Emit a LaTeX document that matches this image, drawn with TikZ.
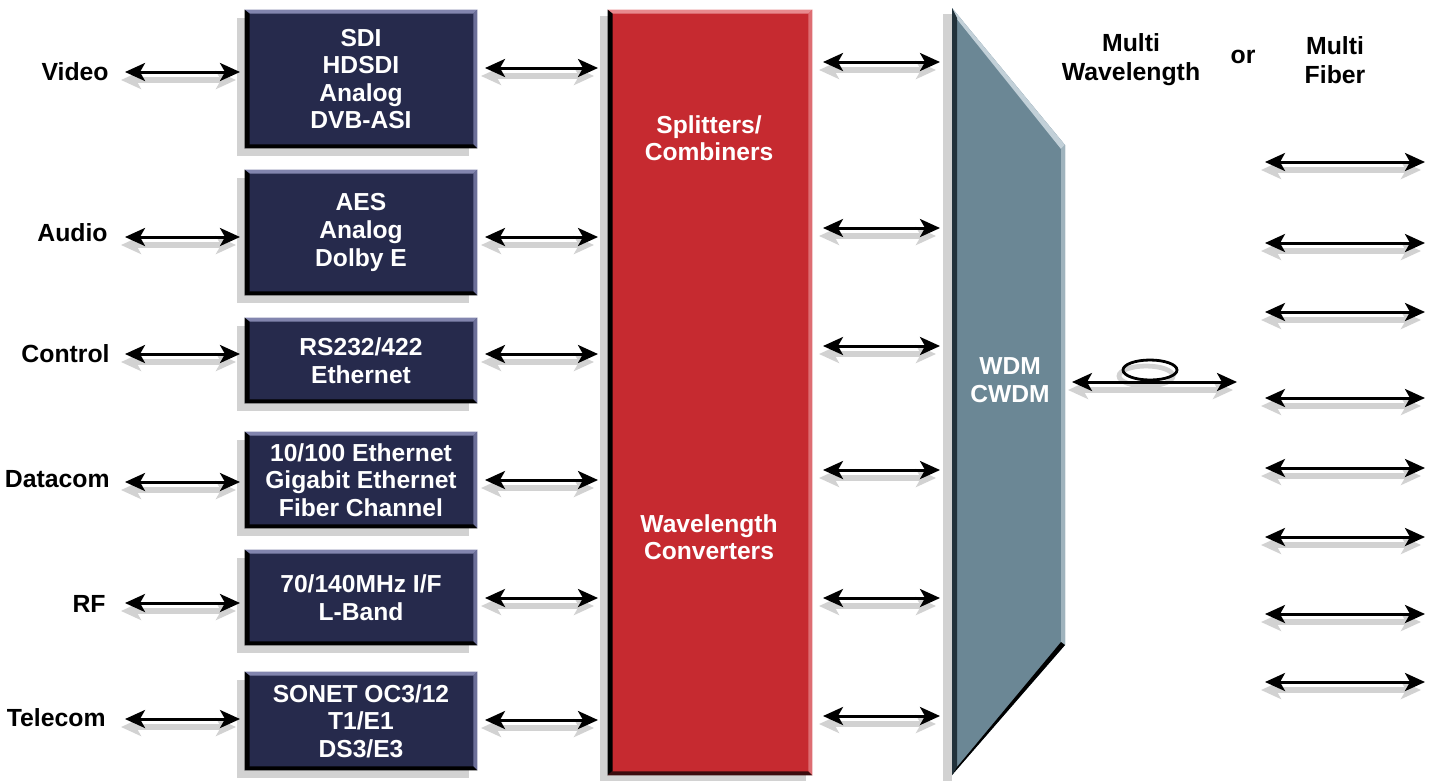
\documentclass[tikz,border=0pt]{standalone}
\usepackage{fontspec}
\setmainfont{Liberation Sans}
\usetikzlibrary{arrows.meta,calc}
\definecolor{navy}{HTML}{262A4C}
\definecolor{navytop}{HTML}{8285AE}
\definecolor{navyright}{HTML}{6C6F98}
\definecolor{redbox}{HTML}{C62A30}
\definecolor{redtop}{HTML}{E88A8E}
\definecolor{wdm}{HTML}{6B8795}
\definecolor{wdmtop}{HTML}{C2D0D8}
\definecolor{wdmdark}{HTML}{22323B}
\definecolor{shad}{HTML}{D2D2D2}
\tikzset{
  lbl/.style={font=\bfseries\fontsize{12.4}{14.5}\selectfont, text=black, inner sep=0pt},
  boxtext/.style={font=\bfseries\fontsize{12.3}{13.8}\selectfont, text=white, align=center},
  arr/.style={line width=1.5pt, {Stealth[length=10pt,width=9pt,inset=2.5pt]}-{Stealth[length=10pt,width=9pt,inset=2.5pt]}},
  arrsh/.style={line width=2.6pt, draw=shad, {Stealth[length=10pt,width=9pt,inset=2.5pt,fill=shad]}-{Stealth[length=10pt,width=9pt,inset=2.5pt,fill=shad]}},
  navyboxstyle/.style={fill=navy, inner sep=0pt, boxtext},
}
\newcommand\dblarrow[2]{%
  \draw[arrsh] ($(#1)+(-4,8)$) -- ($(#2)+(-4,8)$);
  \draw[arr] (#1) -- (#2);
}
\newcommand\navybox[6]{% name x1 y1 x2 y2 text
  \fill[shad] (#2-8,#3+8) rectangle (#4-8,#5+8);
  \node[navyboxstyle, minimum width={(#4-#2)*0.5pt}, minimum height={(#5-#3)*0.5pt}] (#1) at ({(#2+#4)/2},{(#3+#5)/2}) {};
  \fill[navytop] (#1.north west) -- (#1.north east) -- ++(-4,4) -- ($(#1.north west)+(4,4)$) -- cycle;
  \fill[navyright] (#1.north east) -- (#1.south east) -- ++(-4,-4) -- ($(#1.north east)+(-4,4)$) -- cycle;
  \fill[black] (#1.south west) -- (#1.south east) -- ++(-4,-4) -- ($(#1.south west)+(4,-4)$) -- cycle;
  \fill[black] (#1.north west) -- (#1.south west) -- ++(5,-4) -- ($(#1.north west)+(5,4)$) -- cycle;
  \node[boxtext] at (#1.center) {#6};
}
\begin{document}
\begin{tikzpicture}[x=0.5pt,y=-0.5pt]
\useasboundingbox (0,0) rectangle (1438,783);

% left boxes
\navybox{b1}{245}{10}{477}{148}{SDI\\HDSDI\\Analog\\DVB-ASI}
\navybox{b2}{245}{170}{477}{295}{AES\\Analog\\Dolby E}
\navybox{b3}{245}{318}{477}{403}{RS232/422\\Ethernet}
\navybox{b4}{245}{432}{477}{528}{10/100 Ethernet\\Gigabit Ethernet\\Fiber Channel}
\navybox{b5}{245}{550}{477}{645}{70/140MHz I/F\\L-Band}
\navybox{b6}{245}{672}{477}{770}{SONET OC3/12\\T1/E1\\DS3/E3}

% red box
\fill[shad] (600,16) rectangle (806,781);
\node[fill=redbox, inner sep=0pt, minimum width=102pt, minimum height=382.5pt] (red) at (710,392.5) {};
\fill[redtop] (red.north west) -- (red.north east) -- ++(-4,4) -- ($(red.north west)+(4,4)$) -- cycle;
\fill[redtop!70!redbox] (red.north east) -- (red.south east) -- ++(-4,-4) -- ($(red.north east)+(-4,4)$) -- cycle;
\fill[black] (red.north west) -- (red.south west) -- ++(5,-4) -- ($(red.north west)+(5,4)$) -- cycle;
\fill[black!70!redbox] (red.south west) -- (red.south east) -- ++(-4,-4) -- ($(red.south west)+(4,-4)$) -- cycle;
\node[boxtext] (split) at (709,138) {Splitters/\\Combiners};
\node[boxtext] (conv) at (709,537) {Wavelength\\Converters};

% WDM trapezoid
\coordinate (w1) at (952,8);
\coordinate (w2) at (1065,145);
\coordinate (w3) at (1065,645);
\coordinate (w4) at (952,775);
\fill[shad] (943,14) rectangle (952,781);
\fill[wdm] (w1) -- (w2) -- (w3) -- (w4) -- cycle;
\fill[wdmtop] (w1) -- (w2) -- ($(w2)+(-4,4)$) -- ($(w1)+(4,10)$) -- cycle;
\fill[wdmtop!60!wdm] (w2) -- (w3) -- ($(w3)+(-4,-3)$) -- ($(w2)+(-4,4)$) -- cycle;
\fill[wdmdark] (w1) -- (w4) -- ($(w4)+(5,-8)$) -- ($(w1)+(5,10)$) -- cycle;
\fill[black] (w3) -- (w4) -- ($(w4)+(5,-8)$) -- ($(w3)+(-4,-3)$) -- cycle;
\node[boxtext] (wdmtext) at (1010,380) {WDM\\CWDM};

% left labels
\node[lbl, anchor=east] (video) at (109,72) {Video};
\node[lbl, anchor=east] (audio) at (108,233) {Audio};
\node[lbl, anchor=east] (control) at (110,354) {Control};
\node[lbl, anchor=east] (datacom) at (110,479) {Datacom};
\node[lbl, anchor=east] (rf) at (106,604) {RF};
\node[lbl, anchor=east] (telecom) at (106,718) {Telecom};

% left arrows
\coordinate (la1) at (125,72);  \coordinate (lb1) at (240,72);
\coordinate (la2) at (125,237); \coordinate (lb2) at (240,237);
\coordinate (la3) at (125,354); \coordinate (lb3) at (240,354);
\coordinate (la4) at (125,482); \coordinate (lb4) at (240,482);
\coordinate (la5) at (125,603); \coordinate (lb5) at (240,603);
\coordinate (la6) at (125,719); \coordinate (lb6) at (240,719);
\foreach \i in {1,...,6} {\dblarrow{la\i}{lb\i}}

% middle arrows
\coordinate (ma1) at (485,68);  \coordinate (mb1) at (598,68);
\coordinate (ma2) at (485,237); \coordinate (mb2) at (598,237);
\coordinate (ma3) at (485,354); \coordinate (mb3) at (598,354);
\coordinate (ma4) at (485,480); \coordinate (mb4) at (598,480);
\coordinate (ma5) at (485,598); \coordinate (mb5) at (598,598);
\coordinate (ma6) at (485,720); \coordinate (mb6) at (598,720);
\foreach \i in {1,...,6} {\dblarrow{ma\i}{mb\i}}

% arrows red -> WDM
\coordinate (ra1) at (823,62);  \coordinate (rb1) at (940,62);
\coordinate (ra2) at (823,228); \coordinate (rb2) at (940,228);
\coordinate (ra3) at (823,346); \coordinate (rb3) at (940,346);
\coordinate (ra4) at (823,470); \coordinate (rb4) at (940,470);
\coordinate (ra5) at (823,598); \coordinate (rb5) at (940,598);
\coordinate (ra6) at (823,716); \coordinate (rb6) at (940,716);
\foreach \i in {1,...,6} {\dblarrow{ra\i}{rb\i}}

% fiber arrow with loop
\coordinate (fa) at (1072,382); \coordinate (fb) at (1237,382);
\draw[shad, line width=2.4pt] (1146,376) ellipse [x radius=27, y radius=10];
\dblarrow{fa}{fb}
\draw[black, line width=1.4pt] (1150,370) ellipse [x radius=27, y radius=10];

% far right arrows
\foreach \y [count=\i] in {162,243,312,398,468,537,614,682} {
  \coordinate (pa\i) at (1265,\y); \coordinate (pb\i) at (1425,\y);
  \dblarrow{pa\i}{pb\i}
}

% top labels
\node[lbl, align=center] (mw) at (1131,60) {Multi\\Wavelength};
\node[lbl] (or) at (1243,57) {or};
\node[lbl, align=center] (mf) at (1335,60) {Multi\\Fiber};
\end{tikzpicture}
\end{document}
